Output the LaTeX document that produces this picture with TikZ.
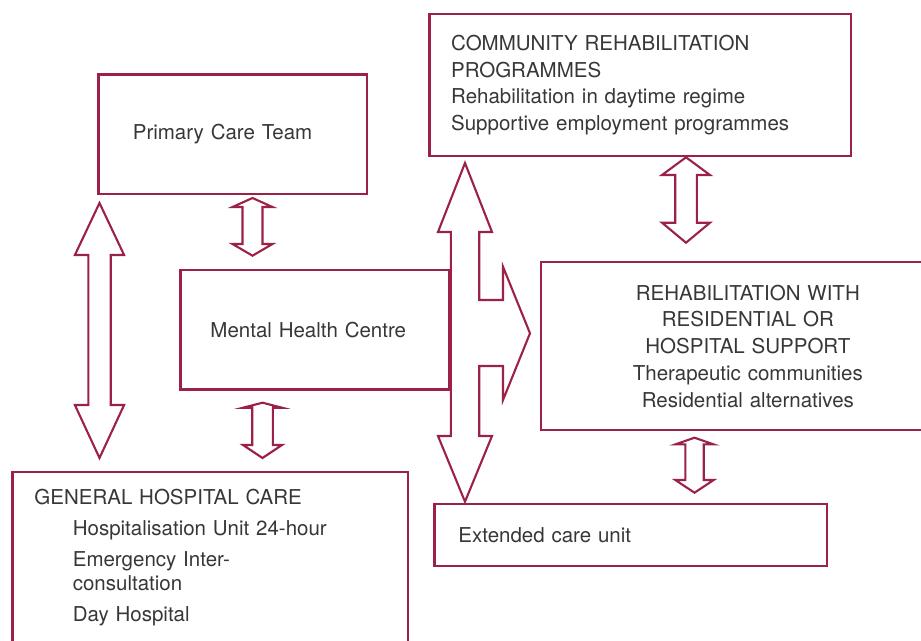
\documentclass[tikz,border=0pt]{standalone}
\usepackage{fontspec}
\setmainfont{TeX Gyre Heros}
\definecolor{maroon}{RGB}{155,34,70}
\definecolor{ink}{RGB}{55,55,55}

% double block arrow: x, top, bottom, head half width, shaft half width, top head, bottom head
\newcommand{\blockarrow}[7]{%
  \draw[blockarrow] (#1,#2) -- (#1+#4,#2+#6) -- (#1+#5,#2+#6) -- (#1+#5,#3-#7)
    -- (#1+#4,#3-#7) -- (#1,#3) -- (#1-#4,#3-#7) -- (#1-#5,#3-#7)
    -- (#1-#5,#2+#6) -- (#1-#4,#2+#6) -- cycle;}

\begin{document}
\begin{tikzpicture}[
    x=1pt, y=-1pt,
    box/.style={rectangle, draw=maroon, line width=2.3pt, anchor=north west,
        text=ink, align=left, font=\fontsize{20.5}{26.7}\selectfont},
    blockarrow/.style={draw=maroon, line width=2.1pt, fill=white},
]
\useasboundingbox (0,0) rectangle (921,640);

% primary care team
\node[box, text width=199.9pt, inner xsep=34.4pt, minimum height=119.4pt]
    (pct) at (97.3,73.3) {Primary Care Team};
% mental health centre
\node[box, text width=209pt, inner xsep=30pt, minimum height=119.3pt]
    (mhc) at (179.3,269) {Mental Health Centre};
% community rehabilitation
\node[box, text width=378.3pt, inner xsep=21.7pt, minimum height=142.3pt]
    (crp) at (428.3,12.7) {COMMUNITY REHABILITATION\\PROGRAMMES\\
    Rehabilitation in daytime regime\\Supportive employment programmes};
% residential or hospital support
\node[box, align=center, text width=393.4pt, inner xsep=10pt, minimum height=168pt]
    (rwr) at (540,261) {REHABILITATION WITH\\RESIDENTIAL OR\\HOSPITAL SUPPORT\\
    Therapeutic communities\\Residential alternatives};
% extended care
\node[box, text width=344.4pt, inner xsep=24pt, minimum height=62.3pt]
    (ecu) at (433.3,502.7) {Extended care unit};
% general hospital
\node[box, text width=351.4pt, inner xsep=22pt, inner ysep=17.3pt,
    font=\fontsize{20.5}{23.3}\selectfont]
    (ghc) at (11.3,470.7) {GENERAL HOSPITAL CARE\\[7.3pt]
    \hspace*{38.4pt}Hospitalisation Unit 24-hour\\[8.4pt]
    \hspace*{38.4pt}Emergency Inter-\\
    \hspace*{38.4pt}consultation\\[8.4pt]
    \hspace*{38.4pt}Day Hospital};

% small double arrows
\blockarrow{252.5}{198}{255.7}{20}{10}{9}{11.7}
\blockarrow{262.5}{402.7}{458}{19.5}{10.3}{5}{13}
\blockarrow{686}{157.3}{242.7}{24}{10.8}{17.7}{20}
\blockarrow{694.5}{437.7}{492.7}{19.2}{9.2}{6.7}{12.7}
% long arrow on the left
\blockarrow{99.5}{203}{458}{24.6}{11.2}{52}{53}
% central arrow with branch
\draw[blockarrow] (465,163) -- (492,232) -- (479.2,232) -- (479.2,300) -- (503,300)
    -- (503,266.7) -- (530,333.3) -- (503,400) -- (503,366) -- (479.2,366)
    -- (479.2,436) -- (492,436) -- (465,501.7) -- (438,436) -- (450.8,436)
    -- (450.8,232) -- (438,232) -- cycle;
\end{tikzpicture}
\end{document}
